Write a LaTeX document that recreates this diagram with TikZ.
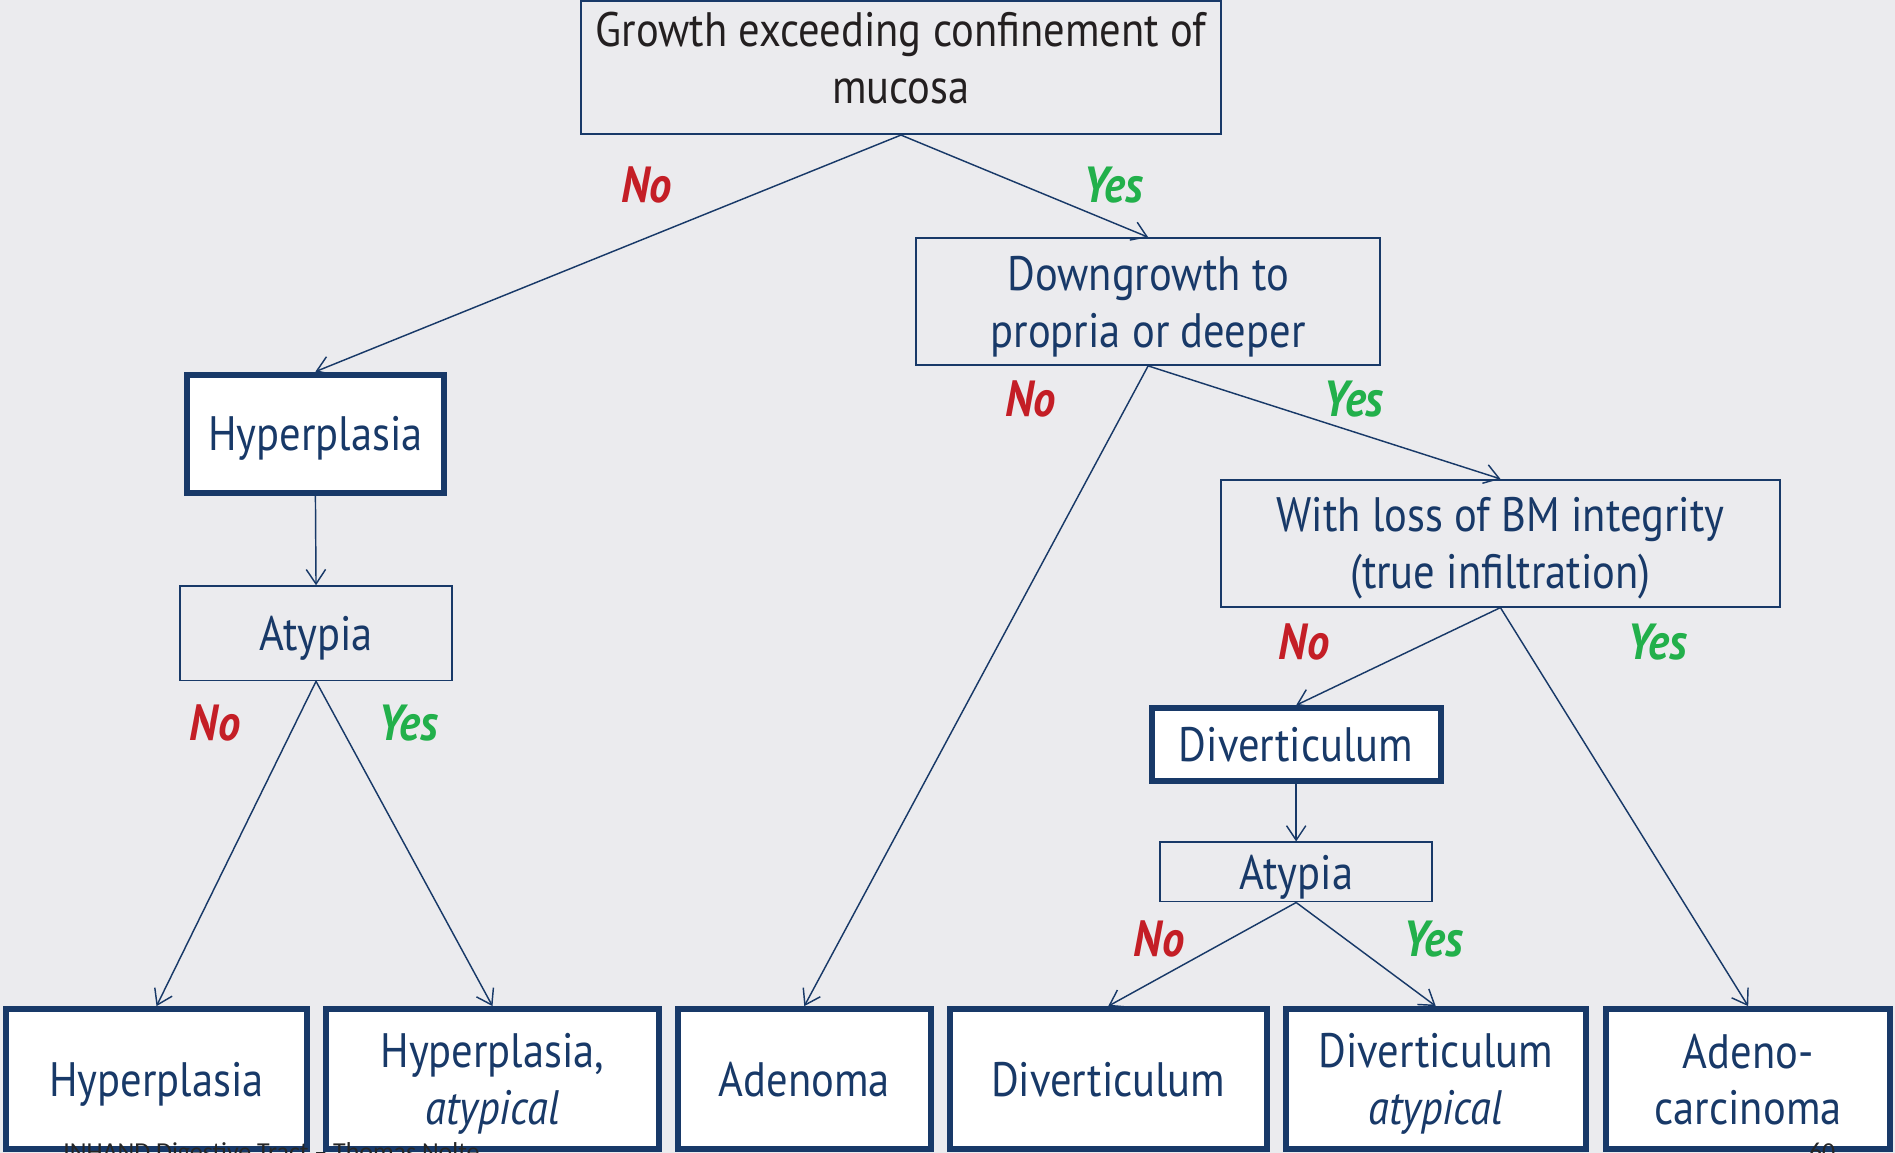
\documentclass[tikz,border=0pt]{standalone}
\usepackage{fontspec}
\setmainfont{PT Sans}[FakeStretch=0.88]
\newfontfamily\footfont{Carlito}
\usetikzlibrary{arrows.meta}
\definecolor{navy}{RGB}{24,57,104}
\definecolor{bggray}{RGB}{235,235,238}
\definecolor{nored}{RGB}{196,30,38}
\definecolor{yesgreen}{RGB}{34,176,75}
\definecolor{darktext}{RGB}{35,31,32}
\tikzset{
  sz/.style 2 args={minimum width=#1*0.5pt,minimum height=#2*0.5pt},
  box/.style={draw=navy,line width=0.75pt,fill=bggray,text=navy,align=center,
    inner sep=0pt,text depth=0pt,font=\fontsize{20}{23.5}\selectfont},
  bigbox/.style={box,line width=2.5pt,fill=white},
  arr/.style={navy,line width=0.6pt,-{Straight Barb[length=6pt,width=8pt]}},
  no/.style={text=nored,font=\fontsize{21}{24}\selectfont\bfseries\itshape},
  yes/.style={no,text=yesgreen},
  foot/.style={text=black!85,font=\footfont\fontsize{10.7}{12}\selectfont,inner sep=0pt}
}
\begin{document}
\begin{tikzpicture}[x=0.5pt,y=-0.5pt]
    \fill[bggray] (0,0) rectangle (1568,954);
    \useasboundingbox (0,0) rectangle (1568,954);
    \node[box,sz={529}{110},text=darktext,text depth=8pt] (top) at (745.5,56) {Growth exceeding confinement of\\mucosa};
    \node[box,sz={384}{105}] (down) at (950,249.5) {Downgrowth to\\propria or deeper};
    \node[bigbox,sz={212}{98}] (hyp) at (261,359) {Hyperplasia};
    \node[box,sz={225}{78}] (atyA) at (261.5,524) {Atypia};
    \node[box,sz={463}{105}] (loss) at (1241.5,449.5) {With loss of BM integrity\\(true infiltration)};
    \node[bigbox,sz={239}{60}] (div) at (1072.5,616) {Diverticulum};
    \node[box,sz={225}{49}] (atyB) at (1072.5,721.5) {Atypia};
    \begin{scope}[every node/.style={bigbox}]
    \node[sz={249}{116}] (hypN) at (129.5,893) {Hyperplasia};
    \node[sz={275}{116}] (hypY) at (407.5,893) {Hyperplasia,\\\textit{atypical}};
    \node[sz={209}{116}] (aden) at (665.5,893) {Adenoma};
    \node[sz={262}{116}] (divN) at (917,893) {Diverticulum};
    \node[sz={248}{116}] (divY) at (1188,893) {Diverticulum\\\textit{atypical}};
    \node[sz={235}{116}] (carc) at (1446.5,893) {Adeno-\\carcinoma};
    \end{scope}
    \draw[arr] (top.south) -- (hyp.north);
    \draw[arr] (top.south) -- (down.north);
    \draw[arr] (down.south) -- (aden.north);
    \draw[arr] (down.south) -- (loss.north);
    \draw[arr] (hyp.south) -- (atyA.north);
    \draw[arr] (atyA.south) -- (hypN.north);
    \draw[arr] (atyA.south) -- (hypY.north);
    \draw[arr] (loss.south) -- (div.north);
    \draw[arr] (loss.south) -- (carc.north);
    \draw[arr] (div.south) -- (atyB.north);
    \draw[arr] (atyB.south) -- (divN.north);
    \draw[arr] (atyB.south) -- (divY.north);
    \node[no] (noA) at (535,153) {No};
    \node[yes] (yesA) at (921,153) {Yes};
    \node[no] (noB) at (853,330) {No};
    \node[yes] (yesB) at (1120,330) {Yes};
    \node[no] (noC) at (178,598) {No};
    \node[yes] (yesC) at (338,598) {Yes};
    \node[no] (noD) at (1079,531) {No};
    \node[yes] (yesD) at (1371,531) {Yes};
    \node[no] (noE) at (959,777) {No};
    \node[yes] (yesE) at (1186,777) {Yes};
    \node[foot,anchor=base west] (footer) at (52,960) {INHAND Digestive Tract – Thomas Nolte};
    \node[foot,anchor=base east] (pageno) at (1519,960) {60};
\end{tikzpicture}
\end{document}
